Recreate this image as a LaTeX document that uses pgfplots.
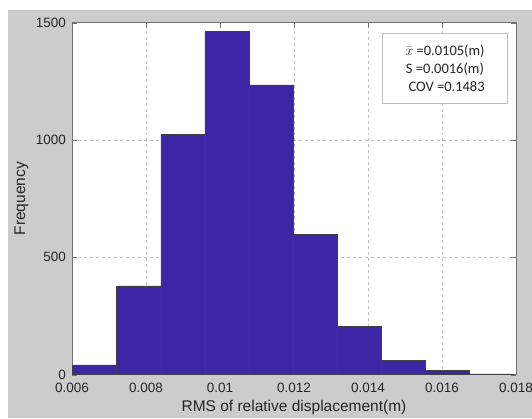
\documentclass[border=0pt]{standalone}
\usepackage{fontspec}
\setmainfont{Liberation Sans}
\newfontfamily\calibri{Carlito}
\usepackage{pgfplots}
\pgfplotsset{compat=1.18}
\definecolor{barblue}{RGB}{61,38,166}
\definecolor{bgGray}{RGB}{204,204,204}
\begin{document}
\begin{tikzpicture}[x=1bp,y=1bp]
\path[use as bounding box] (-72,-43.4) rectangle (460,374.6);
\fill[white] (-72,-43.4) rectangle (460,374.6);
\fill[bgGray] (-64,-43.4) rectangle (460,364.6);
\begin{axis}[
  at={(0,0)}, anchor=south west, scale only axis,
  width=444bp, height=351.9bp,
  xmin=0.006, xmax=0.018, ymin=0, ymax=1500,
  scaled x ticks=false, scaled y ticks=false,
  xtick={0.006,0.008,0.010,0.012,0.014,0.016,0.018},
  xticklabels={0.006,0.008,0.01,0.012,0.014,0.016,0.018},
  ytick={0,500,1000,1500},
  yticklabels={0,500,1000,1500},
  axis background/.style={fill=white},
  grid=major, grid style={dashed, black!25},
  axis line style={black!55},
  tick style={black!55},
  tick align=inside, major tick length=5bp,
  ticklabel style={font=\fontsize{13.5bp}{16bp}\selectfont, text=black!85},
  xticklabel style={anchor=center, yshift=-13.4bp},
  yticklabel style={anchor=east, xshift=-2.5bp},
  xlabel={RMS of relative displacement(m)}, ylabel={Frequency},
  xlabel style={font=\fontsize{15.5bp}{18bp}\selectfont, text=black!85,
    at={(axis description cs:0.5,0)}, anchor=center, yshift=-32.4bp},
  ylabel style={font=\fontsize{15.5bp}{18bp}\selectfont, text=black!85,
    at={(axis description cs:0,0.5)}, anchor=center, yshift=50.5bp},
]
\addplot[ybar interval, fill=barblue, draw=black!75, line width=0.6bp] coordinates {
  (0.00602,41) (0.00721,378) (0.00840,1024) (0.00959,1462) (0.01078,1235)
  (0.01197,596) (0.01316,207) (0.01435,62) (0.01554,17) (0.01673,3) (0.01792,3)
};
\node[draw=black!25, fill=white, minimum width=124.6bp, minimum height=69.4bp,
  align=center, inner sep=0pt, text=black!85,
  font=\calibri\fontsize{14.5bp}{18bp}\selectfont]
  at (rel axis cs:0.840,0.871) {$\bar{x}$ =0.0105(m)\\S =0.0016(m)\\\ COV =0.1483};
\end{axis}
\end{tikzpicture}
\end{document}
